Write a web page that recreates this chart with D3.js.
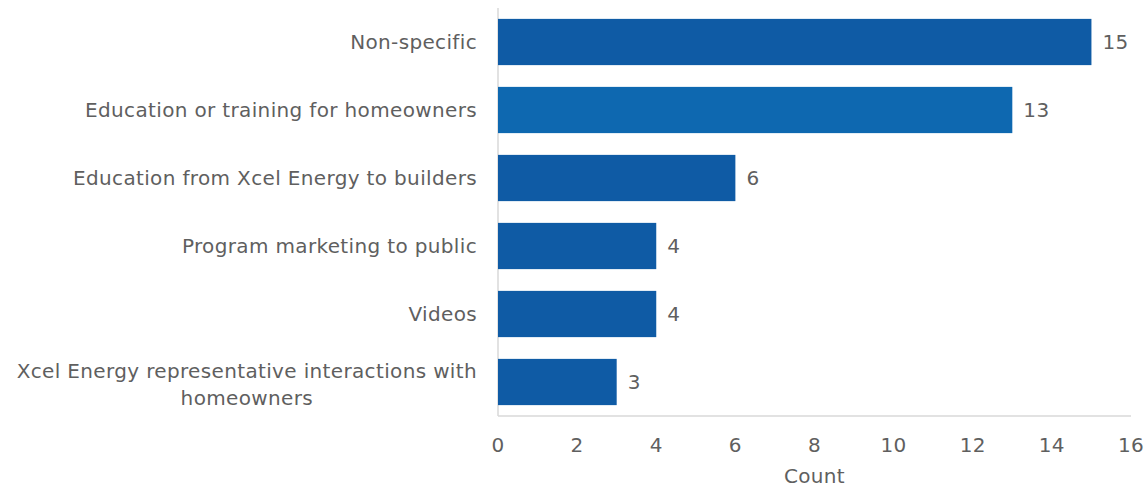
<!DOCTYPE html>
<html>
<head>
<meta charset="utf-8">
<script src="https://cdn.jsdelivr.net/npm/d3@7"></script>
<style>
  body { margin: 0; background: #fff; }
  text { font-family: "DejaVu Sans", Verdana, sans-serif; fill: #5f5f5f; letter-spacing: 0.35px; }
</style>
</head>
<body>
<svg width="1148" height="487"></svg>
<script>
var categories = [
  "Non-specific",
  "Education or training for homeowners",
  "Education from Xcel Energy to builders",
  "Program marketing to public",
  "Videos",
  "Xcel Energy representative interactions with homeowners"
];
var counts = [15, 13, 6, 4, 4, 3];
var barColors = ["#0F5BA5", "#0E68B0", "#0F5BA5", "#0F5BA5", "#0F5BA5", "#0F5BA5"];
var xTicks = [0, 2, 4, 6, 8, 10, 12, 14, 16];
var xTitle = "Count";

var svg = d3.select("svg");
var plotLeft = 498, plotRight = 1131, plotTop = 8, plotBottom = 416;
var fontSize = "20px";

var x = d3.scaleLinear().domain([0, 16]).range([plotLeft, plotRight]);
var y = d3.scaleBand()
    .domain(categories)
    .range([plotTop, plotBottom])
    .paddingInner(0.32)
    .paddingOuter(0.16);

// axis lines
svg.append("line")
    .attr("x1", plotLeft).attr("x2", plotLeft)
    .attr("y1", plotTop).attr("y2", plotBottom)
    .attr("stroke", "#d9d9d9").attr("stroke-width", 1.5);
svg.append("line")
    .attr("x1", plotLeft).attr("x2", plotRight)
    .attr("y1", plotBottom).attr("y2", plotBottom)
    .attr("stroke", "#d9d9d9").attr("stroke-width", 1.5);

var data = categories.map(function(c, i) { return {cat: c, value: counts[i], color: barColors[i]}; });

svg.append("g").selectAll("rect")
  .data(data)
  .enter().append("rect")
    .attr("x", x(0))
    .attr("y", function(d) { return y(d.cat); })
    .attr("width", function(d) { return x(d.value) - x(0); })
    .attr("height", y.bandwidth())
    .attr("fill", function(d) { return d.color; });

// value labels
svg.append("g").selectAll("text")
  .data(data)
  .enter().append("text")
    .attr("x", function(d) { return x(d.value) + 11; })
    .attr("y", function(d) { return y(d.cat) + y.bandwidth() / 2; })
    .attr("dy", "0.35em")
    .style("font-size", fontSize)
    .text(function(d) { return d.value; });

// category labels (wrap the long one)
var wraps = {
  "Xcel Energy representative interactions with homeowners":
    ["Xcel Energy representative interactions with", "homeowners"]
};
var catG = svg.append("g").selectAll("g")
  .data(categories)
  .enter().append("g");

catG.each(function(c) {
  var lines = wraps[c] || [c];
  var g = d3.select(this);
  var cy = y(c) + y.bandwidth() / 2;
  var lh = 27;
  if (lines.length === 1) {
    g.append("text")
      .attr("x", 477).attr("y", cy).attr("dy", "0.35em")
      .attr("text-anchor", "end")
      .style("font-size", fontSize)
      .text(c);
  } else {
    var t0 = g.append("text")
      .attr("x", 477).attr("y", cy + 2 - lh / 2).attr("dy", "0.35em")
      .attr("text-anchor", "end")
      .style("font-size", fontSize)
      .text(lines[0]);
    var w = t0.node().getComputedTextLength();
    g.append("text")
      .attr("x", 477 - w / 2).attr("y", cy + 2 + lh / 2).attr("dy", "0.35em")
      .attr("text-anchor", "middle")
      .style("font-size", fontSize)
      .text(lines[1]);
  }
});

// x tick labels
svg.append("g").selectAll("text")
  .data(xTicks)
  .enter().append("text")
    .attr("x", function(d) { return x(d); })
    .attr("y", 445)
    .attr("dy", "0.35em")
    .attr("text-anchor", "middle")
    .style("font-size", fontSize)
    .text(function(d) { return d; });

svg.append("text")
    .attr("x", (plotLeft + plotRight) / 2)
    .attr("y", 476)
    .attr("dy", "0.35em")
    .attr("text-anchor", "middle")
    .style("font-size", fontSize)
    .text(xTitle);
</script>
</body>
</html>
